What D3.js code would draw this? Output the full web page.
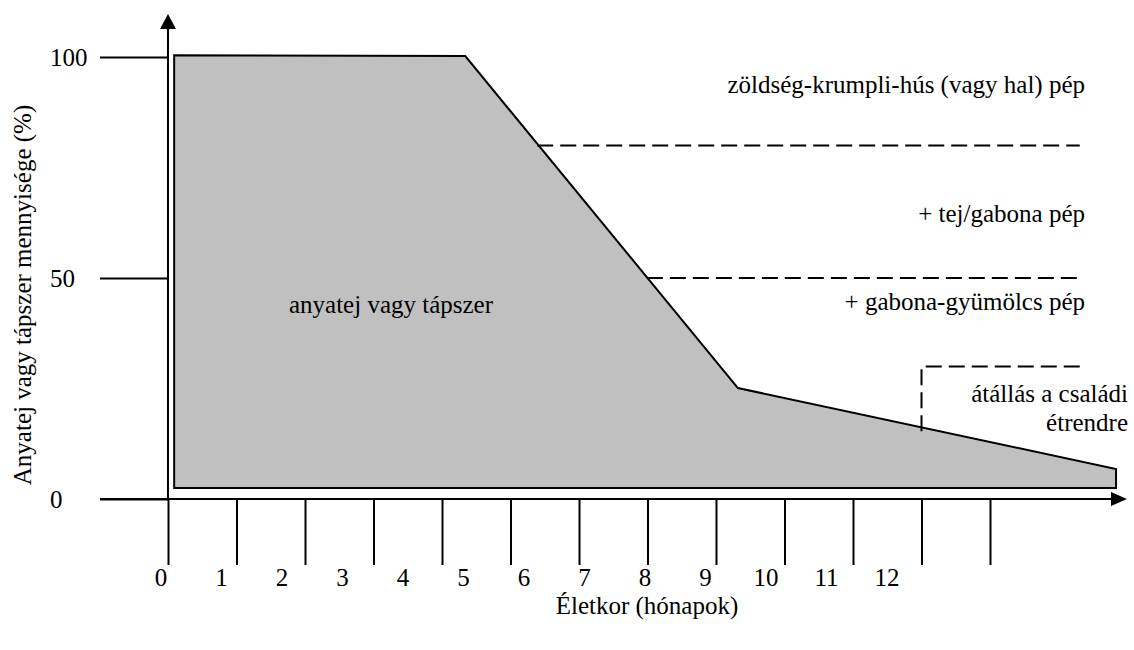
<!DOCTYPE html>
<html>
<head>
<meta charset="utf-8">
<script src="https://cdn.jsdelivr.net/npm/d3@7"></script>
<style>
  body { margin: 0; background: #fff; }
</style>
</head>
<body>
<div id="chart"></div>
<script>
// months on the x axis, percentages on the y axis
var monthTicks = [0, 1, 2, 3, 4, 5, 6, 7, 8, 9, 10, 11, 12];
var monthLabels = ["0", "1", "2", "3", "4", "5", "6", "7", "8", "9", "10", "11", "12"];
var percentTicks = [0, 50, 100];

// milk / formula share outline (month, percent)
var milkMonths  = [0.09, 4.34, 8.32, 13.84, 13.84, 0.09];
var milkPercent = [100.4, 100.2, 25.1, 6.8, 2.5, 2.5];

// dashed stage borders
var stagePercent = [80, 50];
var stageStart   = [5.39, 6.99];
var stageEnd     = [13.31, 13.31];

// dashed bracket for the family diet
var familyMonths  = [13.31, 11, 11];
var familyPercent = [30, 30, 15];

var stageNames = ["zöldség-krumpli-hús (vagy hal) pép", "+ tej/gabona pép", "+ gabona-gyümölcs pép"];
var familyText = ["átállás a családi", "étrendre"];
var milkText = "anyatej vagy tápszer";
var xTitle = "Életkor (hónapok)";
var yTitle = "Anyatej vagy tápszer mennyisége (%)";

var font = "'Liberation Serif', 'Times New Roman', 'DejaVu Serif', serif";
var width = 1134, height = 650;

var svg = d3.select('#chart')
          .append('svg')
          .attr('width', width)
          .attr('height', height);

var x = d3.scaleLinear().domain([0, 14]).range([168, 168 + 14 * 68.5]);
var y = d3.scaleLinear().domain([0, 100]).range([499, 57]);
// the month numbers are typed a little apart from the tick lines
var xLabel = d3.scaleLinear().domain([0, 12]).range([161, 887]);

function label(x0, y0, anchor, t) {
  return svg.append("text")
     .attr("x", x0).attr("y", y0)
     .attr("text-anchor", anchor)
     .style("font-family", font)
     .style("font-size", "25px")
     .attr("fill", "#000")
     .text(t);
}

// milk area
var pts = milkMonths.map(function(m, i) { return [x(m), y(milkPercent[i])]; });
svg.append("path")
   .attr("d", d3.line()(pts) + "Z")
   .attr("fill", "#c0c0c0")
   .attr("stroke", "#000")
   .attr("stroke-width", 2);

// dashed borders
stagePercent.forEach(function(p, i) {
  svg.append("line")
     .attr("x1", x(stageStart[i])).attr("x2", x(stageEnd[i]))
     .attr("y1", y(p)).attr("y2", y(p))
     .attr("stroke", "#000").attr("stroke-width", 2)
     .attr("stroke-dasharray", "16,7");
});

svg.append("path")
   .attr("d", d3.line()(familyMonths.map(function(m, i) { return [x(m), y(familyPercent[i])]; })))
   .attr("fill", "none")
   .attr("stroke", "#000").attr("stroke-width", 2)
   .attr("stroke-dasharray", "16,7");

// y axis ticks
var yAxis = svg.append("g")
   .attr("transform", "translate(" + x(0) + ",0)")
   .call(d3.axisLeft(y).tickValues(percentTicks).tickSize(68).tickPadding(0));
yAxis.select(".domain").remove();
yAxis.selectAll(".tick line").attr("stroke", "#000").attr("stroke-width", 2);
yAxis.selectAll(".tick text")
     .attr("x", -118)
     .attr("dy", "0.34em")
     .attr("text-anchor", "start")
     .attr("fill", "#000")
     .style("font-family", font)
     .style("font-size", "25px");

// x axis ticks
var xAxis = svg.append("g")
   .attr("transform", "translate(0," + y(0) + ")")
   .call(d3.axisBottom(x).tickValues(monthTicks).tickSize(66).tickFormat(""));
xAxis.select(".domain").remove();
xAxis.selectAll(".tick line").attr("stroke", "#000").attr("stroke-width", 2);

monthTicks.forEach(function(d, i) {
  label(xLabel(d), 586, "middle", monthLabels[i]);
});

// axis lines with arrows
svg.append("line")
   .attr("x1", 100).attr("x2", x(14) - 12)
   .attr("y1", y(0)).attr("y2", y(0))
   .attr("stroke", "#000").attr("stroke-width", 2);
svg.append("path")
   .attr("d", "M" + x(14) + "," + y(0) + "l-16,-7l0,14Z")
   .attr("fill", "#000");

svg.append("line")
   .attr("x1", x(0)).attr("x2", x(0))
   .attr("y1", y(0)).attr("y2", 26)
   .attr("stroke", "#000").attr("stroke-width", 2);
svg.append("path")
   .attr("d", "M" + x(0) + ",14l-8,15l16,0Z")
   .attr("fill", "#000");

// texts
label(1085, 93, "end", stageNames[0]);
label(1085, 222, "end", stageNames[1]);
label(1085, 310, "end", stageNames[2]);
familyText.forEach(function(t, i) {
  label(1128, 402 + i * 29, "end", t);
});
label(391, 313, "middle", milkText);
label(647, 614, "middle", xTitle);

svg.append("text")
   .attr("transform", "translate(31,295) rotate(-90)")
   .attr("text-anchor", "middle")
   .attr("fill", "#000")
   .style("font-family", font)
   .style("font-size", "25px")
   .text(yTitle);
</script>
</body>
</html>
